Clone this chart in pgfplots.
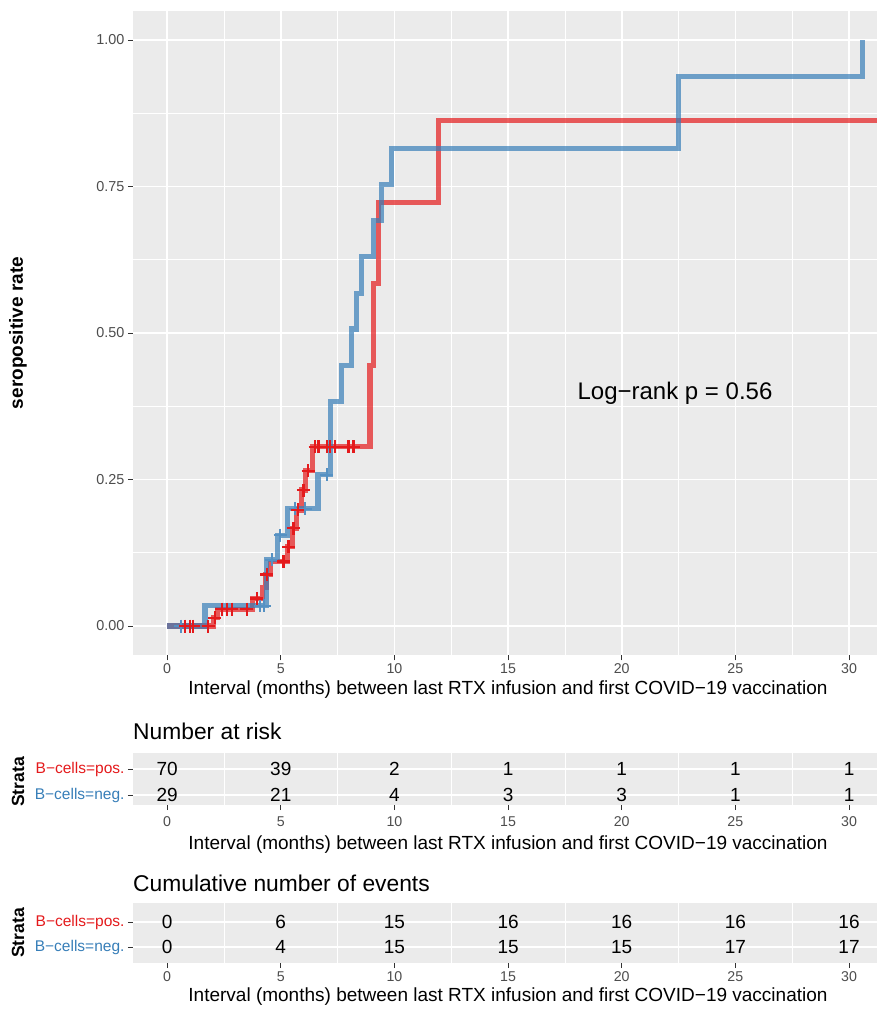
\documentclass[border=0pt]{standalone}
\usepackage{pgfplots}
\pgfplotsset{compat=1.18}
\usepackage{fontspec}
\setmainfont{Liberation Sans}
\definecolor{panel}{RGB}{235,235,235}
\definecolor{setred}{RGB}{228,26,28}
\definecolor{setblue}{RGB}{55,126,184}
\definecolor{tickgray}{RGB}{77,77,77}
\definecolor{tickline}{RGB}{51,51,51}
\pgfplotsset{
 gg/.style={
  scale only axis, anchor=south west,
  axis background/.style={fill=panel},
  axis line style={draw=none},
  tick align=outside, tick pos=left,
  major tick length=5pt, minor tick length=0pt,
  tick style={draw=tickline, line width=0.8pt},
  major grid style={white, line width=1.6pt},
  minor grid style={white, line width=0.8pt},
  tick label style={font=\fontsize{14.2}{15}\selectfont, text=tickgray},
  xmin=-1.5, xmax=31.23, width=744pt,
  xtick={0,5,...,30}, xticklabels={0,5,10,15,20,25,30},
 },
 tbl/.style={
  draw=none, mark=none, nodes near coords, point meta=explicit symbolic,
  nodes near coords style={anchor=center, font=\fontsize{19}{20}\selectfont, text=black},
 }
}
\begin{document}
\begin{tikzpicture}
\useasboundingbox (0pt,0pt) rectangle (877pt,-1009pt);
% ---------------- main KM plot ----------------
\begin{axis}[gg, at={(133pt,-655.3pt)}, height=644.6pt,
  ymin=-0.05, ymax=1.05,
  ytick={0,0.25,0.5,0.75,1}, yticklabels={0.00,0.25,0.50,0.75,1.00},
  minor x tick num=1, minor y tick num=1, grid=both,
  yticklabel style={font=\fontsize{14.4}{15}\selectfont}]
\addplot[const plot, setred, opacity=0.7, line width=5.2pt] coordinates {
(0,0) (2.05,0.0143) (2.2,0.0286) (3.75,0.047) (4.2,0.066) (4.35,0.088) (4.55,0.11)
(5.3,0.135) (5.5,0.167) (5.68,0.198) (5.9,0.232) (6.1,0.265) (6.4,0.306)
(8.93,0.445) (9.08,0.584) (9.3,0.723) (11.94,0.862) (31.5,0.862)};
\addplot[const plot, setblue, opacity=0.7, line width=5.2pt] coordinates {
(0,0) (1.67,0.0345) (4.39,0.113) (4.85,0.155) (5.3,0.2) (6.64,0.258) (7.2,0.383)
(7.68,0.445) (8.12,0.507) (8.34,0.568) (8.56,0.63) (9.08,0.692) (9.44,0.753)
(9.88,0.815) (22.48,0.938) (30.6,1.0)};
\addplot[only marks, mark=+, mark size=6.5pt, line width=2.2pt, color=setblue!85!white] coordinates {
(0.6,0) (4.1,0.0345) (4.28,0.0345) (4.6,0.113) (4.97,0.155) (5.63,0.2) (6.07,0.2) (7.03,0.258)};
\addplot[only marks, mark=+, mark size=6.5pt, line width=2.2pt, color=setred] coordinates {
(0.8,0) (1.0,0) (1.15,0) (1.8,0) (2.1,0.0143) (2.4,0.0286) (2.63,0.0286) (2.85,0.0286)
(3.5,0.0286) (3.95,0.047) (4.39,0.088) (5.12,0.11) (5.34,0.135) (5.56,0.167) (5.75,0.198)
(6.0,0.232) (6.2,0.265) (6.51,0.306) (6.66,0.306) (7.03,0.306) (7.17,0.306) (7.39,0.306)
(7.98,0.306) (8.2,0.306)};
\end{axis}
% ---------------- number at risk ----------------
\begin{axis}[gg, at={(133pt,-805pt)}, height=52pt,
  ymin=0.615, ymax=2.615, ytick={1,2},
  yticklabels={\textcolor{setblue}{B−cells=neg.},\textcolor{setred}{B−cells=pos.}},
  minor x tick num=1, xminorgrids=true, xmajorgrids=false, ymajorgrids=true,
  xticklabel style={yshift=-3pt},
  yticklabel style={font=\fontsize{15.5}{16}\selectfont}]
\addplot[tbl] table[meta=n] {
x y n
0 2 70
5 2 39
10 2 2
15 2 1
20 2 1
25 2 1
30 2 1
0 1 29
5 1 21
10 1 4
15 1 3
20 1 3
25 1 1
30 1 1
};
\end{axis}
% ---------------- cumulative events ----------------
\begin{axis}[gg, at={(133pt,-963pt)}, height=60pt,
  ymin=0.36, ymax=2.76, ytick={1,2},
  yticklabels={\textcolor{setblue}{B−cells=neg.},\textcolor{setred}{B−cells=pos.}},
  minor x tick num=1, xminorgrids=true, xmajorgrids=false, ymajorgrids=true,
  yticklabel style={font=\fontsize{15.5}{16}\selectfont}]
\addplot[tbl] table[meta=n] {
x y n
0 2 0
5 2 6
10 2 15
15 2 16
20 2 16
25 2 16
30 2 16
0 1 0
5 1 4
10 1 15
15 1 15
20 1 15
25 1 17
30 1 17
};
\end{axis}
% ---------------- text ----------------
\node[rotate=90, font=\bfseries\fontsize{19}{20}\selectfont] at (18pt,-333pt) {seropositive rate};
\node[font=\fontsize{24}{26}\selectfont] at (675pt,-393pt) {Log−rank p = 0.56};
\node[font=\fontsize{19}{20}\selectfont, inner sep=0pt] at (508pt,-690pt) {Interval (months) between last RTX infusion and first COVID−19 vaccination};
\node[font=\fontsize{19}{20}\selectfont, inner sep=0pt] at (508pt,-845pt) {Interval (months) between last RTX infusion and first COVID−19 vaccination};
\node[font=\fontsize{19}{20}\selectfont, inner sep=0pt] at (508pt,-997pt) {Interval (months) between last RTX infusion and first COVID−19 vaccination};
\node[anchor=west, inner sep=0pt, font=\fontsize{22.8}{24}\selectfont] at (133pt,-731.5pt) {Number at risk};
\node[anchor=west, inner sep=0pt, font=\fontsize{22.8}{24}\selectfont] at (133pt,-883pt) {Cumulative number of events};
\node[rotate=90, font=\bfseries\fontsize{17.6}{18}\selectfont] at (18pt,-782pt) {Strata};
\node[rotate=90, font=\bfseries\fontsize{17.6}{18}\selectfont] at (18pt,-933pt) {Strata};
\end{tikzpicture}
\end{document}
